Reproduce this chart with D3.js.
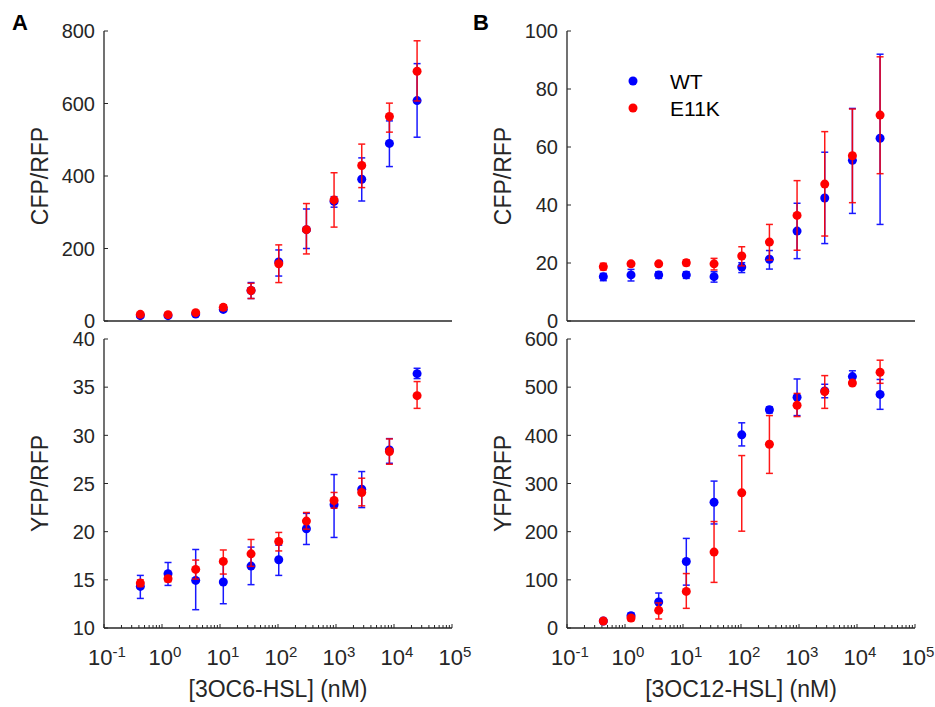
<!DOCTYPE html>
<html>
<head>
<meta charset="utf-8">
<script src="https://cdn.jsdelivr.net/npm/d3@7"></script>
<style>
  body { margin: 0; background: #fff; }
  text { font-family: "Liberation Sans", Arial, sans-serif; fill: #262626; }
</style>
</head>
<body>
<script>
// concentrations (nM), 3-fold dilutions
var conc = [0.423, 1.27, 3.81, 11.4, 34.3, 103, 309, 926, 2778, 8333, 25000];

// panel A - 3OC6-HSL, CFP/RFP
var aCfpWT    = [14.7, 14.7, 19, 32, 84, 163, 252, 330, 391, 490, 608];
var aCfpWTlo  = [12, 12, 16, 28, 62, 124, 200, 314, 331, 426, 507];
var aCfpWThi  = [17, 17, 22, 36, 106, 196, 309, 343, 450, 552, 710];
var aCfpMut   = [18.4, 17.5, 23, 37.7, 84, 158, 252, 334, 429, 564, 689];
var aCfpMutlo = [16, 15, 20, 30, 62, 106, 185, 259, 368, 521, 607];
var aCfpMuthi = [21, 20, 26, 45, 104, 210, 324, 409, 488, 601, 773];

// panel A - YFP/RFP
var aYfpWT    = [14.32, 15.63, 14.94, 14.77, 16.43, 17.08, 20.3, 22.79, 24.41, 28.49, 36.4];
var aYfpWTlo  = [13.07, 14.42, 11.9, 12.52, 14.5, 15.46, 18.67, 19.4, 22.5, 27.1, 35.89];
var aYfpWThi  = [15.46, 16.8, 18.15, 17.0, 18.4, 18.6, 21.9, 25.93, 26.24, 29.66, 36.96];
var aYfpMut   = [14.66, 15.11, 16.08, 16.91, 17.7, 18.98, 21.1, 23.24, 24.07, 28.32, 34.12];
var aYfpMutlo = [14.3, 14.8, 15.08, 15.6, 16.4, 18.0, 20.26, 22.44, 22.68, 27.0, 32.8];
var aYfpMuthi = [15.0, 15.4, 17.05, 18.1, 19.19, 19.92, 21.99, 24.07, 25.55, 29.63, 35.58];

// panel B - 3OC12-HSL, CFP/RFP
var bCfpWT    = [15.3, 15.9, 15.9, 15.9, 15.3, 18.6, 21.3, 31.0, 42.4, 55.4, 63];
var bCfpWTlo  = [13.9, 13.8, 14.7, 14.7, 13.4, 16.7, 17.9, 21.5, 26.7, 37.1, 33.3];
var bCfpWThi  = [16.4, 17.8, 17, 17, 17, 20.1, 24.3, 40.6, 58.2, 73.3, 92];
var bCfpMut   = [18.7, 19.7, 19.7, 20.1, 19.7, 22.4, 27.2, 36.4, 47.2, 57, 71];
var bCfpMutlo = [17.6, 19.0, 19.0, 19.1, 17.6, 19, 21, 24.4, 29.3, 40.8, 50.8];
var bCfpMuthi = [19.9, 20.3, 20.3, 21.1, 21.6, 25.6, 33.3, 48.4, 65.3, 73.1, 91.1];

// panel B - YFP/RFP
var bYfpWT    = [14.5, 25.6, 54, 138, 261, 401, 453, 479, 492, 522, 485];
var bYfpWTlo  = [12, 20, 38, 89, 216, 378, 446.5, 441, 478, 510, 454];
var bYfpWThi  = [17, 31, 72.6, 186, 305, 426, 459, 517, 506, 534, 516];
var bYfpMut   = [14.5, 20.7, 36.6, 76, 157.6, 280.6, 381.6, 462.4, 490.8, 508.7, 530.9];
var bYfpMutlo = [12, 15.2, 18.7, 40.8, 94.7, 201, 321, 439, 456, 506, 508];
var bYfpMuthi = [17, 25.6, 52, 113, 221, 358, 441, 487, 524, 511, 556];

var seriesNames = ["WT", "E11K"];
var seriesColors = ["#0000ff", "#ff0000"];

var W = 935, H = 707;

var svg = d3.select("body").append("svg")
    .attr("width", W)
    .attr("height", H);

// panels: left, right, top, bottom of plot area
var panels = [
  {x0: 104, x1: 452, y0: 31,  y1: 321, dom: [0, 800], ticks: [0, 200, 400, 600, 800], ylab: "CFP/RFP", xt: false,
   wt: [aCfpWT, aCfpWTlo, aCfpWThi], mu: [aCfpMut, aCfpMutlo, aCfpMuthi]},
  {x0: 104, x1: 452, y0: 339, y1: 628, dom: [10, 40], ticks: [10, 15, 20, 25, 30, 35, 40], ylab: "YFP/RFP", xt: true, xlab: "[3OC6-HSL] (nM)",
   wt: [aYfpWT, aYfpWTlo, aYfpWThi], mu: [aYfpMut, aYfpMutlo, aYfpMuthi]},
  {x0: 567, x1: 915, y0: 31,  y1: 321, dom: [0, 100], ticks: [0, 20, 40, 60, 80, 100], ylab: "CFP/RFP", xt: false,
   wt: [bCfpWT, bCfpWTlo, bCfpWThi], mu: [bCfpMut, bCfpMutlo, bCfpMuthi]},
  {x0: 567, x1: 915, y0: 339, y1: 628, dom: [0, 600], ticks: [0, 100, 200, 300, 400, 500, 600], ylab: "YFP/RFP", xt: true, xlab: "[3OC12-HSL] (nM)",
   wt: [bYfpWT, bYfpWTlo, bYfpWThi], mu: [bYfpMut, bYfpMutlo, bYfpMuthi]}
];

panels.forEach(function(p) {
  var x = d3.scaleLog().domain([0.1, 1e5]).range([p.x0, p.x1]);
  var y = d3.scaleLinear().domain(p.dom).range([p.y1, p.y0]);
  var g = svg.append("g");

  // y axis line + inward ticks
  g.append("line").attr("x1", p.x0).attr("x2", p.x0).attr("y1", p.y0).attr("y2", p.y1)
      .attr("stroke", "#262626").attr("stroke-width", 1.3);
  g.selectAll(".yt").data(p.ticks).enter().append("line")
      .attr("x1", p.x0).attr("x2", p.x0 + 4)
      .attr("y1", function(d) { return y(d); }).attr("y2", function(d) { return y(d); })
      .attr("stroke", "#262626").attr("stroke-width", 1);
  g.selectAll(".yl").data(p.ticks).enter().append("text")
      .attr("x", p.x0 - 9)
      .attr("y", function(d) { return y(d); })
      .attr("dy", "0.36em")
      .attr("text-anchor", "end")
      .style("font-size", "20px")
      .text(function(d) { return d; });

  g.append("text")
      .attr("transform", "translate(" + (p.x0 - 56) + "," + ((p.y0 + p.y1) / 2) + ") rotate(-90)")
      .attr("text-anchor", "middle")
      .style("font-size", "23px")
      .text(p.ylab);

  // x axis line
  g.append("line").attr("x1", p.x0).attr("x2", p.x1).attr("y1", p.y1).attr("y2", p.y1)
      .attr("stroke", "#262626").attr("stroke-width", 1.3);

  if (p.xt) {
    var minor = [];
    for (var e = -1; e < 5; e++) {
      for (var m = 2; m <= 9; m++) minor.push(m * Math.pow(10, e));
    }
    var major = [0.1, 1, 10, 100, 1000, 10000, 100000];
    g.selectAll(".mn").data(minor).enter().append("line")
        .attr("x1", function(d) { return x(d); }).attr("x2", function(d) { return x(d); })
        .attr("y1", p.y1).attr("y2", p.y1 - 3)
        .attr("stroke", "#262626").attr("stroke-width", 1);
    g.selectAll(".mj").data(major).enter().append("line")
        .attr("x1", function(d) { return x(d); }).attr("x2", function(d) { return x(d); })
        .attr("y1", p.y1).attr("y2", p.y1 - 4)
        .attr("stroke", "#262626").attr("stroke-width", 1);
    var lab = g.selectAll(".xl").data(major).enter().append("text")
        .attr("x", function(d) { return x(d) + 3; })
        .attr("y", p.y1 + 37)
        .attr("text-anchor", "middle")
        .style("font-size", "22px");
    lab.append("tspan").text("10");
    lab.append("tspan").attr("dy", "-0.55em").style("font-size", "15px")
        .text(function(d) { var k = Math.round(Math.log10(d)); return k < 0 ? "-" + (-k) : k; });

    g.append("text")
        .attr("x", (p.x0 + p.x1) / 2)
        .attr("y", p.y1 + 69)
        .attr("text-anchor", "middle")
        .style("font-size", "23px")
        .text(p.xlab);
  }

  // error bars and markers: WT first, mutant on top
  [p.wt, p.mu].forEach(function(s, si) {
    var col = seriesColors[si];
    var rows = conc.map(function(c, i) { return {c: c, v: s[0][i], lo: s[1][i], hi: s[2][i]}; });
    var eb = g.append("g").attr("stroke", col).attr("stroke-width", 1.5).attr("opacity", 0.9);
    eb.selectAll(".v").data(rows).enter().append("line")
        .attr("x1", function(d) { return x(d.c); }).attr("x2", function(d) { return x(d.c); })
        .attr("y1", function(d) { return y(d.lo); }).attr("y2", function(d) { return y(d.hi); });
    ["lo", "hi"].forEach(function(k) {
      eb.selectAll(".c" + k).data(rows).enter().append("line")
          .attr("x1", function(d) { return x(d.c) - 3.5; }).attr("x2", function(d) { return x(d.c) + 3.5; })
          .attr("y1", function(d) { return y(d[k]); }).attr("y2", function(d) { return y(d[k]); });
    });
    g.selectAll(".pt" + si).data(rows).enter().append("circle")
        .attr("cx", function(d) { return x(d.c); })
        .attr("cy", function(d) { return y(d.v); })
        .attr("r", 4.5)
        .attr("fill", col);
  });
});

// panel letters
svg.append("text").attr("x", 12).attr("y", 30).style("font-size", "22px").style("font-weight", "bold")
    .style("fill", "#000").text("A");
svg.append("text").attr("x", 473).attr("y", 30).style("font-size", "22px").style("font-weight", "bold")
    .style("fill", "#000").text("B");

// legend
var leg = svg.append("g");
seriesNames.forEach(function(n, i) {
  leg.append("circle").attr("cx", 633).attr("cy", 81 + i * 27).attr("r", 4.5).attr("fill", seriesColors[i]);
  leg.append("text").attr("x", 670).attr("y", 81 + i * 27).attr("dy", "0.36em")
      .style("font-size", "21px").style("fill", "#000").text(n);
});
</script>
</body>
</html>
